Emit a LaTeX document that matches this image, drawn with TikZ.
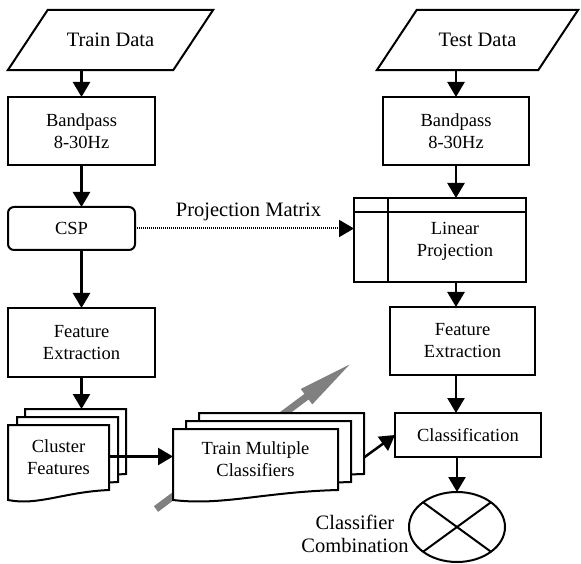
\documentclass[tikz,border=0pt]{standalone}
\usepackage{fontspec}
\setmainfont{Liberation Serif}
\usetikzlibrary{arrows.meta,shapes.geometric,calc,backgrounds}
\newcommand\docwave[3]{%
  \filldraw[fill=white,line width=2pt,line join=miter]
    ($(#1.north west)+(#2,#3)$) -- ($(#1.north east)+(#2,#3)$) -- ($(#1.south east)+(#2,#3)$)
    .. controls ($(#1.south west)!.55!(#1.south east)+(#2,#3-2)$) and ($(#1.south west)!.3!(#1.south east)+(#2,#3-16)$)
    .. ($(#1.south west)+(#2,#3-10)$) -- cycle;}
\begin{document}
\begin{tikzpicture}[x=1pt,y=1pt,
    box/.style={draw,line width=2pt,inner sep=0pt,outer sep=0pt,align=center,font=\fontsize{18.5}{22}\selectfont},
    doc/.style={inner sep=0pt,outer sep=0pt,align=center,font=\fontsize{18.5}{22}\selectfont},
    lbl/.style={align=center,inner sep=0pt,font=\fontsize{20.5}{23}\selectfont},
    arr/.style={line width=2.5pt,-{Triangle[length=15pt,width=17pt]}}]
  \useasboundingbox (0,0) rectangle (581,563);
  \node[lbl,minimum width=205pt,minimum height=60pt] (train) at (110.5,523) {Train Data};
  \draw[line width=2pt] ([xshift=40pt]train.north west) -- (train.north east) -- ([xshift=-40pt]train.south east) -- (train.south west) -- cycle;
  \node[lbl,minimum width=201pt,minimum height=60pt] (test) at (477.5,523) {Test Data};
  \draw[line width=2pt] ([xshift=40pt]test.north west) -- (test.north east) -- ([xshift=-40pt]test.south east) -- (test.south west) -- cycle;
  \node[box,minimum width=147pt,minimum height=68pt] (bandL) at (81.5,432) {Bandpass\\8-30Hz};
  \node[box,minimum width=146pt,minimum height=68pt] (bandR) at (456,432) {Bandpass\\8-30Hz};
  \node[box,rounded corners=6pt,minimum width=127pt,minimum height=43pt] (csp) at (71.5,334.5) {CSP};
  \node[box,minimum width=172pt,minimum height=84pt] (proj) at (440,323) {};
  \draw[line width=2pt] ([yshift=-14pt]proj.north west) -- ([yshift=-14pt]proj.north east);
  \draw[line width=2pt] ([xshift=34pt]proj.north west) -- ([xshift=34pt]proj.south west);
  \node[doc] (projtxt) at ($(proj.center)+(15,-1)$) {Linear\\Projection};
  \node[box,minimum width=147pt,minimum height=69pt] (featL) at (81.5,220.5) {Feature\\Extraction};
  \node[box,minimum width=145pt,minimum height=68pt] (featR) at (462.5,222) {Feature\\Extraction};
  \node[box,minimum width=146pt,minimum height=44pt] (cls) at (468,128) {Classification};
  \node[draw,ellipse,line width=2pt,inner sep=0pt,outer sep=0pt,minimum width=96pt,minimum height=70pt] (comb) at (457,36) {};
  \draw[line width=2pt] (comb.north west) -- (comb.south east);
  \draw[line width=2pt] (comb.north east) -- (comb.south west);
  \node[lbl] (comblbl) at (355,29.5) {Classifier\\Combination};
  \node[doc,minimum width=101pt,minimum height=65pt] (clus) at (58.5,105.5) {Cluster\\Features};
  \node[doc,minimum width=165pt,minimum height=61pt] (multi) at (255.5,103.5) {Train Multiple\\Classifiers};
  \coordinate (g0) at (156,54);
  \coordinate (g1) at (353,201);
  \begin{pgfonlayer}{background}
    \draw[gray,line width=7pt,-{Triangle[length=58pt,width=17pt]}] (g0) -- (g1);
    \docwave{clus}{17}{16}
    \docwave{clus}{9}{8}
    \docwave{clus}{0}{0}
    \docwave{multi}{26}{16}
    \docwave{multi}{13}{8}
    \docwave{multi}{0}{0}
  \end{pgfonlayer}
  \draw[arr] (bandL.north |- train.south) -- (bandL.north);
  \draw[arr] (bandL.south) -- (bandL.south |- csp.north);
  \draw[arr] (bandL.south |- csp.south) -- (featL.north);
  \draw[arr] (featL.south) -- ($(featL.south |- clus.north)+(0,16)$);
  \draw[arr] ([yshift=1pt]clus.east) -- ([yshift=1pt]clus.east -| multi.west);
  \draw[arr] ([xshift=26pt,yshift=2pt]multi.east) -- (cls.west);
  \draw[arr] (bandR.north |- test.south) -- (bandR.north);
  \draw[arr] (bandR.south) -- (bandR.south |- proj.north);
  \draw[arr] (bandR.south |- proj.south) -- (bandR.south |- featR.north);
  \draw[arr] (bandR.south |- featR.south) -- (bandR.south |- cls.north);
  \draw[arr] (comb.north |- cls.south) -- (comb.north);
  \draw[line width=2pt,dash pattern=on 1.2pt off 0.8pt,-{Triangle[length=15pt,width=17pt]}] (csp.east) -- (csp.east -| proj.west)
    node[lbl,midway,above=7pt,xshift=4pt] {Projection Matrix};
\end{tikzpicture}
\end{document}
